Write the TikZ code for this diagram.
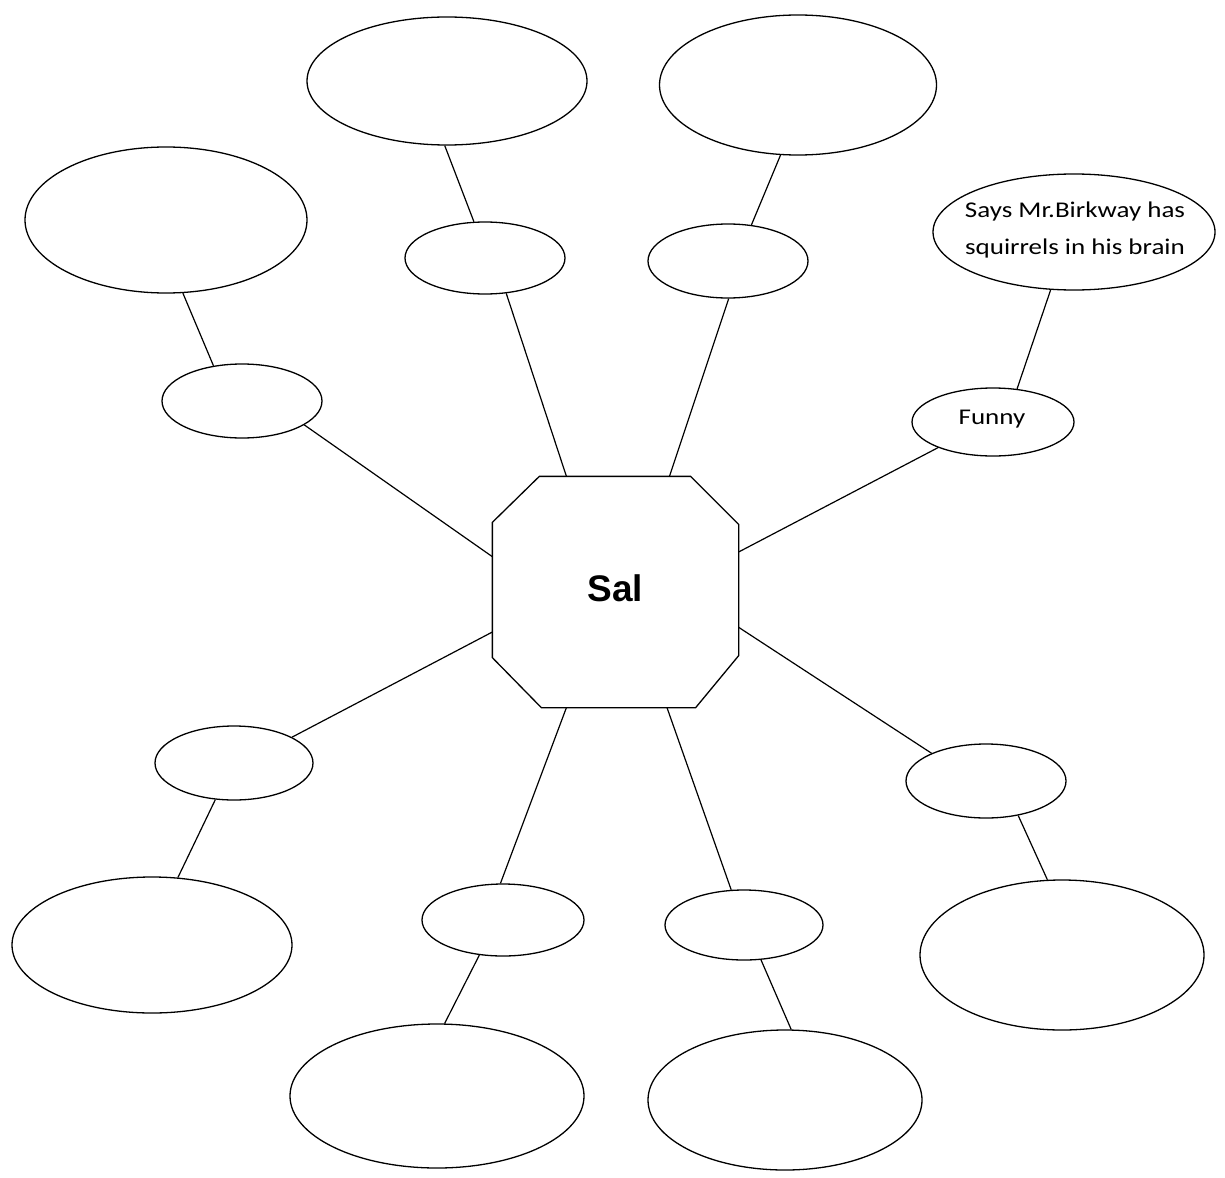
\documentclass[tikz,border=0pt]{standalone}
\usepackage{fontspec}
\setmainfont{Liberation Sans}
\newfontfamily\handfont[FakeStretch=1.2]{Carlito}
\usetikzlibrary{shapes.geometric,calc}
\begin{document}
\begin{tikzpicture}[x=1pt,y=-1pt,
  line width=1.3pt,
  bub/.style={draw,ellipse,inner sep=0pt,minimum width=#1},
  hand/.style={font=\handfont\fontsize{22.5}{37}\selectfont,align=center,inner sep=0pt},
  link/.style={draw,line width=1.2pt}]
\useasboundingbox (0,0) rectangle (1225,1177);
% centre
\node (sal) [minimum width=245pt,minimum height=230pt,inner sep=0pt] at (615.5,592) {};
\draw ([xshift=47pt]sal.north west) -- ([xshift=-48pt]sal.north east)
  -- ([yshift=-48pt]sal.north east) -- ([yshift=52pt]sal.south east)
  -- ([xshift=-43pt]sal.south east) -- ([xshift=49pt]sal.south west)
  -- ([yshift=50pt]sal.south west) -- ([yshift=-46pt]sal.north west) -- cycle;
\node (saltext) [font=\bfseries\fontsize{37}{40}\selectfont,inner sep=0pt] at (615.5,588) {Sal};
% top left branch
\node (A1) [bub=280pt,minimum height=128pt] at (447,81) {};
\node (B1) [bub=160pt,minimum height=72pt] at (485,258) {};
% top right branch
\node (A2) [bub=277pt,minimum height=140pt] at (798,85) {};
\node (B2) [bub=160pt,minimum height=74pt] at (728,261) {};
% left branch
\node (A3) [bub=282pt,minimum height=146pt] at (166,220) {};
\node (C3) [bub=160pt,minimum height=74pt] at (242,401) {};
% right upper branch
\node (T) [bub=282pt,minimum height=116pt] at (1074,232) {};
\node (Ttext) [hand] at (1075,230) {Says Mr.Birkway has\\squirrels in his brain};
\node (F0) [bub=162pt,minimum height=68pt] at (993,422) {};
\node (Ftext) [hand] at (992,419) {Funny};
% lower left branch
\node (D) [bub=158pt,minimum height=74pt] at (234,763) {};
\node (E) [bub=280pt,minimum height=136pt] at (152,945) {};
% bottom left branch
\node (F) [bub=162pt,minimum height=72pt] at (503,920) {};
\node (G) [bub=294pt,minimum height=144pt] at (437,1096) {};
% bottom right branch
\node (H) [bub=158pt,minimum height=70pt] at (744,925) {};
\node (I) [bub=274pt,minimum height=140pt] at (785,1100) {};
% right lower branch
\node (J) [bub=160pt,minimum height=74pt] at (986,781) {};
\node (K) [bub=284pt,minimum height=150pt] at (1062,955) {};
% connectors
\draw[link] (A1.268) -- (B1.107.4);
\draw[link] (B1.301) -- (sal.113.7);
\draw[link] (A2.256) -- (B2.57.4);
\draw[link] (B2.271.5) -- (sal.65.5);
\draw[link] (A3.283.7) -- (C3.129.6);
\draw[link] (C3.339.6) -- (sal.164.1);
\draw[link] (T.248.9) -- (F0.54.3);
\draw[link] (F0.205.7) -- (sal.18.9);
\draw[link] (sal.198.5) -- (D.24.1);
\draw[link] (D.243.4) -- (E.69.3);
\draw[link] (sal.247.1) -- (F.94.8);
\draw[link] (F.236.7) -- (G.84.4);
\draw[link] (sal.294.5) -- (H.110.4);
\draw[link] (H.296.6) -- (I.85.9);
\draw[link] (sal.344.1) -- (J.153.8);
\draw[link] (J.313.3) -- (K.101.6);
\end{tikzpicture}
\end{document}
